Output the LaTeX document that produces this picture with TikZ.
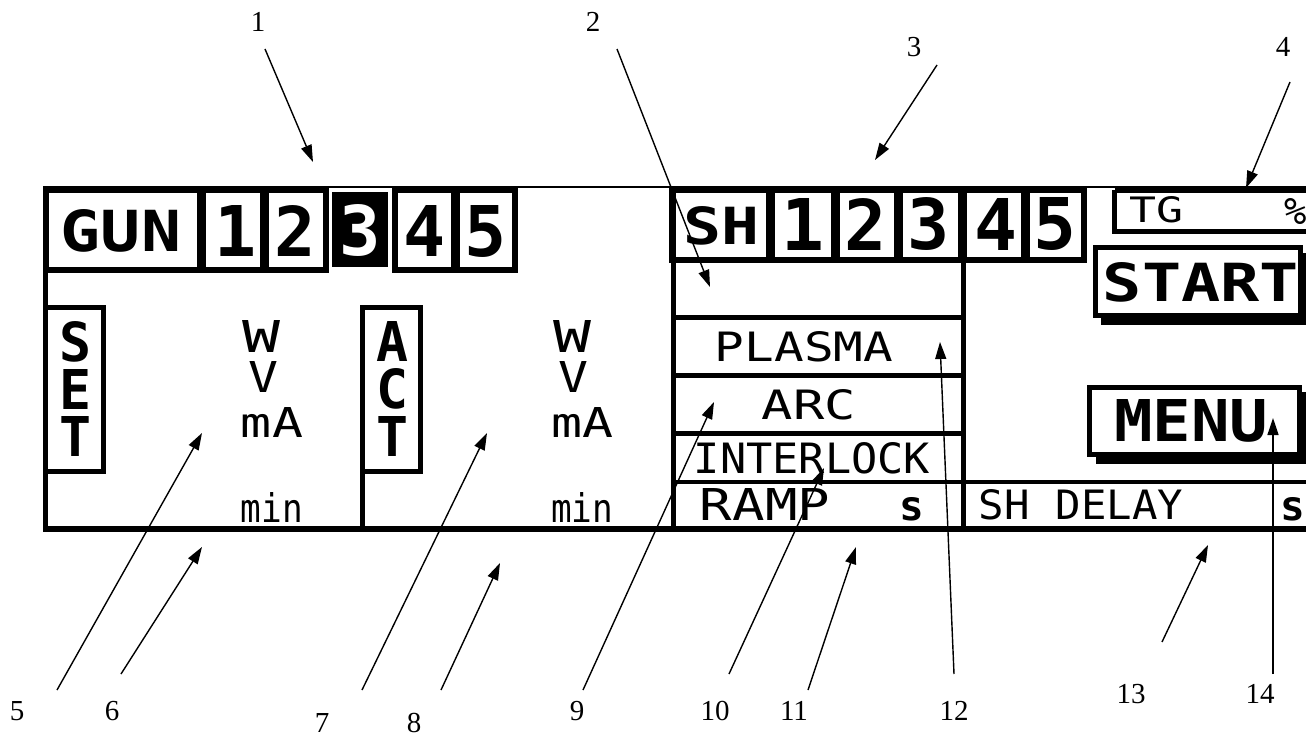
\documentclass[tikz,border=0pt]{standalone}
\usepackage{fontspec}
\usepackage{graphicx}
\setmainfont{Liberation Serif}
\newfontfamily\lcd{DejaVu Sans Mono}
\usetikzlibrary{arrows.meta}
\newcommand\lcdb[3]{\resizebox{#1pt}{#2pt}{\lcd\bfseries #3}}
\newcommand\lcdr[3]{\resizebox{#1pt}{#2pt}{\lcd #3}}
\newcommand\lcdbh[2]{\resizebox{!}{#1pt}{\lcd\bfseries #2}}
\newcommand\lcdrh[2]{\resizebox{!}{#1pt}{\lcd #2}}
\newcommand\vstack[3]{\vbox{\offinterlineskip\hbox{\lcdb{32}{40}{#1}}\kern7pt\hbox{\lcdb{32}{40}{#2}}\kern7pt\hbox{\lcdb{32}{40}{#3}}}}
\tikzset{
  txt/.style={inner sep=0pt, outer sep=0pt, anchor=center},
  num/.style={inner sep=0pt, font=\fontsize{29}{30}\selectfont},
  frame/.style={line width=5pt},
  cellrow/.style={draw, line width=6pt},
  divider/.style={line width=9pt},
  arr/.style={draw, line width=1.4pt, -{Triangle[length=17pt,width=11pt]}},
  shadowbox/.style={fill=black},
  btn/.style={draw, fill=white, line width=5pt}
}
\begin{document}
\begin{tikzpicture}[x=1pt,y=-1pt]
\useasboundingbox (0,0) rectangle (1306,738);
\clip (0,0) rectangle (1306,738);
\fill[white] (0,0) rectangle (1306,738);

% --- frame lines ---
\draw[line width=2pt] (43,187) -- (1306,187);
\draw[frame] (45,187) -- (45,531);
\draw[frame] (673,187) -- (673,531);
\draw[frame] (963,258) -- (963,531);
\draw[line width=6pt] (43,529) -- (1306,529);
\draw[line width=4.5pt] (673,482) -- (1306,482);
\draw[frame] (673,317) -- (963,317);
\draw[frame] (673,375) -- (963,375);
\draw[frame] (673,433) -- (963,433);

% --- GUN header ---
\draw[cellrow] (46,190) rectangle (326,269.5);
\draw[divider] (201,190) -- (201,269.5);
\draw[divider] (264,190) -- (264,269.5);
\fill (332,192) rectangle (388,267);
\draw[cellrow] (395,190) rectangle (515,269.5);
\draw[divider] (455,190) -- (455,269.5);
\node[txt] (gun) at (121,231) {\lcdb{120}{42}{GUN}};
\node[txt] (g1) at (236,231) {\lcdbh{51}{1}};
\node[txt] (g2) at (295,231) {\lcdbh{51}{2}};
\node[txt, text=white] (g3) at (360,230) {\lcdbh{51}{3}};
\node[txt] (g4) at (425,231) {\lcdbh{51}{4}};
\node[txt] (g5) at (486,231) {\lcdbh{51}{5}};

% --- SH header ---
\draw[cellrow] (672,190) rectangle (1084,259.5);
\draw[divider] (770,190) -- (770,259.5);
\draw[divider] (835,190) -- (835,259.5);
\draw[divider] (898,190) -- (898,259.5);
\draw[divider] (962,190) -- (962,259.5);
\draw[divider] (1025,190) -- (1025,259.5);
\node[txt] (sh) at (721,226) {\lcdb{76}{38}{SH}};
\node[txt] (s1) at (803,224) {\lcdbh{52}{1}};
\node[txt] (s2) at (866,224) {\lcdbh{52}{2}};
\node[txt] (s3) at (929,224) {\lcdbh{52}{3}};
\node[txt] (s4) at (996,224) {\lcdbh{52}{4}};
\node[txt] (s5) at (1055,224) {\lcdbh{52}{5}};

% --- TG box ---
\draw[line width=5pt] (1114.5,190.5) -- (1114.5,231.5) -- (1330,231.5);
\draw[line width=5pt] (1114.5,190.5) -- (1330,190.5);
\node[txt] (tg) at (1156,210) {\lcdr{54}{26}{TG}};
\node[txt] (pct) at (1296,211) {\lcdrh{26}{\%}};

% --- START button ---
\fill[shadowbox] (1101,253) rectangle (1312,325);
\draw[btn] (1095.5,247.5) rectangle (1300.5,315.5);
\node[txt] (start) at (1201,282) {\lcdb{196}{39}{START}};

% --- MENU button ---
\fill[shadowbox] (1096,392) rectangle (1312,464);
\draw[btn] (1089.5,387.5) rectangle (1299.5,454.5);
\node[txt] (menu) at (1191,421) {\lcdb{154}{42}{MENU}};

% --- SET / ACT panels ---
\draw[line width=5pt] (45,307.5) -- (103,307.5) -- (103,471) -- (45,471);
\node[txt] (set) at (76,389) {\vstack{S}{E}{T}};
\draw[line width=5pt] (362.5,305) -- (362.5,531);
\draw[line width=5pt] (362.5,307.5) -- (420,307.5) -- (420,471) -- (362.5,471);
\node[txt] (act) at (392,389) {\vstack{A}{C}{T}};

\node[txt] (setW) at (262,336) {\lcdr{38}{32}{W}};
\node[txt] (setV) at (263,377) {\lcdr{30}{31}{V}};
\node[txt] (setmA) at (272,422) {\lcdr{62}{30}{mA}};
\node[txt] (setmin) at (272,507) {\lcdr{62}{30}{min}};
\node[txt] (actW) at (572,336) {\lcdr{38}{32}{W}};
\node[txt] (actV) at (573,377) {\lcdr{30}{31}{V}};
\node[txt] (actmA) at (582,422) {\lcdr{62}{30}{mA}};
\node[txt] (actmin) at (582,507) {\lcdr{62}{30}{min}};

% --- status rows ---
\node[txt] (plasma) at (804,347) {\lcdr{178}{30}{PLASMA}};
\node[txt] (arc) at (809,405) {\lcdr{94}{30}{ARC}};
\node[txt] (interlock) at (812,458) {\lcdr{236}{31}{INTERLOCK}};
\node[txt] (ramp) at (765,504) {\lcdr{130}{32}{RAMP}};
\node[txt] (rs) at (912,509) {\lcdbh{23}{s}};
\node[txt] (shdelay) at (1081,505) {\lcdr{204}{30}{SH DELAY}};
\node[txt] (ds) at (1293,509) {\lcdbh{23}{s}};

% --- callout labels ---
\node[num] (l1) at (258,22) {1};
\node[num] (l2) at (593,22) {2};
\node[num] (l3) at (914,47) {3};
\node[num] (l4) at (1283,47) {4};
\node[num] (l5) at (17,711) {5};
\node[num] (l6) at (112,711) {6};
\node[num] (l7) at (322,723) {7};
\node[num] (l8) at (414,723) {8};
\node[num] (l9) at (577,711) {9};
\node[num] (l10) at (715,711) {10};
\node[num] (l11) at (794,711) {11};
\node[num] (l12) at (954,711) {12};
\node[num] (l13) at (1131,694) {13};
\node[num] (l14) at (1260,694) {14};

% --- arrow end points ---
\coordinate (a1s) at (265,49);   \coordinate (a1e) at (313,162);
\coordinate (a2s) at (617,49);   \coordinate (a2e) at (710,287);
\coordinate (a3s) at (937,65);   \coordinate (a3e) at (875,160);
\coordinate (a4s) at (1290,82);  \coordinate (a4e) at (1246,188);
\coordinate (a5s) at (57,690);   \coordinate (a5e) at (202,433);
\coordinate (a6s) at (121,674);  \coordinate (a6e) at (202,547);
\coordinate (a7s) at (362,690);  \coordinate (a7e) at (487,433);
\coordinate (a8s) at (441,690);  \coordinate (a8e) at (500,563);
\coordinate (a9s) at (583,690);  \coordinate (a9e) at (714,402);
\coordinate (a10s) at (729,674); \coordinate (a10e) at (824,468);
\coordinate (a11s) at (808,690); \coordinate (a11e) at (856,547);
\coordinate (a12s) at (954,674); \coordinate (a12e) at (940,342);
\coordinate (a13s) at (1162,642);\coordinate (a13e) at (1208,545);
\coordinate (a14s) at (1273,674);\coordinate (a14e) at (1273,418);

\foreach \i in {1,...,14} {\draw[arr] (a\i s) -- (a\i e);}
\end{tikzpicture}
\end{document}
